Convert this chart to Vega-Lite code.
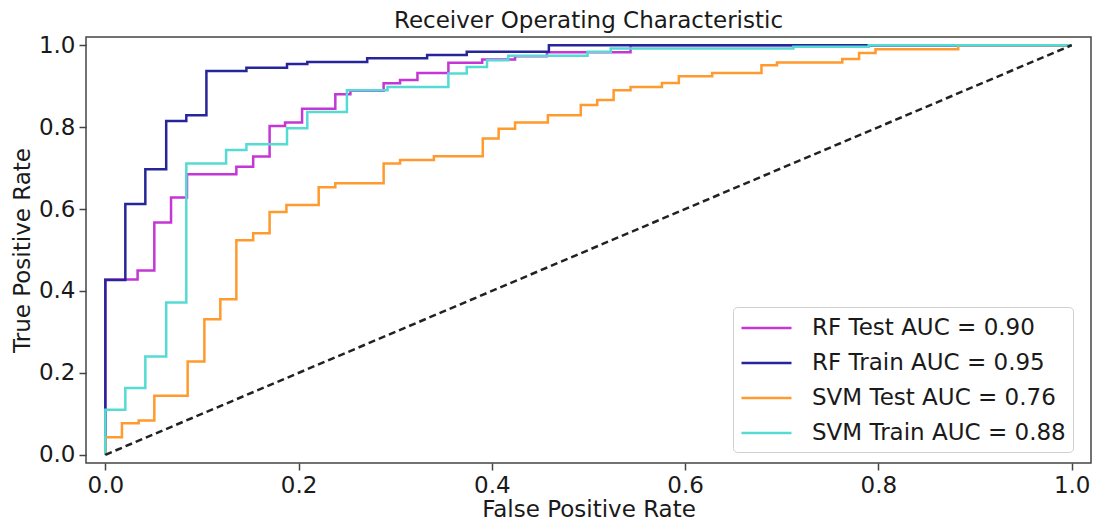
{
  "$schema": "https://vega.github.io/schema/vega-lite/v6.json",
  "width": 1005,
  "height": 426,
  "autosize": {"type": "none"},
  "padding": {"left": 86, "top": 37, "right": 4, "bottom": 58},
  "background": "white",
  "title": {"text": "Receiver Operating Characteristic", "fontSize": 23, "font": "DejaVu Sans", "fontWeight": "normal", "color": "#1a1a1a", "anchor": "middle", "offset": 1},
  "config": {
    "view": {"stroke": "#444444", "strokeWidth": 1.5},
    "axis": {"grid": false, "domain": false, "labelFont": "DejaVu Sans", "titleFont": "DejaVu Sans", "labelFontSize": 23, "titleFontSize": 23, "titleFontWeight": "normal", "labelColor": "#1a1a1a", "titleColor": "#1a1a1a", "tickColor": "#444444", "tickWidth": 1.5, "tickSize": 7, "labelPadding": 4}
  },
  "datasets": {
    "roc": [
      {"model": "RF Test AUC = 0.90", "i": 0, "fpr": 0, "tpr": 0},
      {"model": "RF Test AUC = 0.90", "i": 1, "fpr": 0, "tpr": 0.428},
      {"model": "RF Test AUC = 0.90", "i": 2, "fpr": 0.0334, "tpr": 0.45},
      {"model": "RF Test AUC = 0.90", "i": 3, "fpr": 0.0507, "tpr": 0.567},
      {"model": "RF Test AUC = 0.90", "i": 4, "fpr": 0.068, "tpr": 0.628},
      {"model": "RF Test AUC = 0.90", "i": 5, "fpr": 0.0845, "tpr": 0.685},
      {"model": "RF Test AUC = 0.90", "i": 6, "fpr": 0.1356, "tpr": 0.703},
      {"model": "RF Test AUC = 0.90", "i": 7, "fpr": 0.153, "tpr": 0.728},
      {"model": "RF Test AUC = 0.90", "i": 8, "fpr": 0.17, "tpr": 0.803},
      {"model": "RF Test AUC = 0.90", "i": 9, "fpr": 0.186, "tpr": 0.811},
      {"model": "RF Test AUC = 0.90", "i": 10, "fpr": 0.2036, "tpr": 0.845},
      {"model": "RF Test AUC = 0.90", "i": 11, "fpr": 0.238, "tpr": 0.88},
      {"model": "RF Test AUC = 0.90", "i": 12, "fpr": 0.2536, "tpr": 0.889},
      {"model": "RF Test AUC = 0.90", "i": 13, "fpr": 0.288, "tpr": 0.907},
      {"model": "RF Test AUC = 0.90", "i": 14, "fpr": 0.305, "tpr": 0.915},
      {"model": "RF Test AUC = 0.90", "i": 15, "fpr": 0.323, "tpr": 0.932},
      {"model": "RF Test AUC = 0.90", "i": 16, "fpr": 0.355, "tpr": 0.957},
      {"model": "RF Test AUC = 0.90", "i": 17, "fpr": 0.39, "tpr": 0.965},
      {"model": "RF Test AUC = 0.90", "i": 18, "fpr": 0.424, "tpr": 0.973},
      {"model": "RF Test AUC = 0.90", "i": 19, "fpr": 0.457, "tpr": 0.983},
      {"model": "RF Test AUC = 0.90", "i": 20, "fpr": 0.5435, "tpr": 1.0},
      {"model": "RF Test AUC = 0.90", "i": 21, "fpr": 1.0, "tpr": 1.0},

      {"model": "RF Train AUC = 0.95", "i": 0, "fpr": 0, "tpr": 0},
      {"model": "RF Train AUC = 0.95", "i": 1, "fpr": 0, "tpr": 0.427},
      {"model": "RF Train AUC = 0.95", "i": 2, "fpr": 0.0207, "tpr": 0.612},
      {"model": "RF Train AUC = 0.95", "i": 3, "fpr": 0.0414, "tpr": 0.697},
      {"model": "RF Train AUC = 0.95", "i": 4, "fpr": 0.063, "tpr": 0.815},
      {"model": "RF Train AUC = 0.95", "i": 5, "fpr": 0.0838, "tpr": 0.829},
      {"model": "RF Train AUC = 0.95", "i": 6, "fpr": 0.1046, "tpr": 0.937},
      {"model": "RF Train AUC = 0.95", "i": 7, "fpr": 0.146, "tpr": 0.945},
      {"model": "RF Train AUC = 0.95", "i": 8, "fpr": 0.188, "tpr": 0.954},
      {"model": "RF Train AUC = 0.95", "i": 9, "fpr": 0.209, "tpr": 0.959},
      {"model": "RF Train AUC = 0.95", "i": 10, "fpr": 0.271, "tpr": 0.968},
      {"model": "RF Train AUC = 0.95", "i": 11, "fpr": 0.333, "tpr": 0.976},
      {"model": "RF Train AUC = 0.95", "i": 12, "fpr": 0.374, "tpr": 0.984},
      {"model": "RF Train AUC = 0.95", "i": 13, "fpr": 0.459, "tpr": 1.0},
      {"model": "RF Train AUC = 0.95", "i": 14, "fpr": 1.0, "tpr": 1.0},

      {"model": "SVM Test AUC = 0.76", "i": 0, "fpr": 0, "tpr": 0},
      {"model": "SVM Test AUC = 0.76", "i": 1, "fpr": 0, "tpr": 0.043},
      {"model": "SVM Test AUC = 0.76", "i": 2, "fpr": 0.0172, "tpr": 0.077},
      {"model": "SVM Test AUC = 0.76", "i": 3, "fpr": 0.0345, "tpr": 0.084},
      {"model": "SVM Test AUC = 0.76", "i": 4, "fpr": 0.0507, "tpr": 0.144},
      {"model": "SVM Test AUC = 0.76", "i": 5, "fpr": 0.0852, "tpr": 0.228},
      {"model": "SVM Test AUC = 0.76", "i": 6, "fpr": 0.1025, "tpr": 0.331},
      {"model": "SVM Test AUC = 0.76", "i": 7, "fpr": 0.119, "tpr": 0.38},
      {"model": "SVM Test AUC = 0.76", "i": 8, "fpr": 0.1356, "tpr": 0.524},
      {"model": "SVM Test AUC = 0.76", "i": 9, "fpr": 0.153, "tpr": 0.541},
      {"model": "SVM Test AUC = 0.76", "i": 10, "fpr": 0.17, "tpr": 0.593},
      {"model": "SVM Test AUC = 0.76", "i": 11, "fpr": 0.1874, "tpr": 0.61},
      {"model": "SVM Test AUC = 0.76", "i": 12, "fpr": 0.2208, "tpr": 0.653},
      {"model": "SVM Test AUC = 0.76", "i": 13, "fpr": 0.238, "tpr": 0.663},
      {"model": "SVM Test AUC = 0.76", "i": 14, "fpr": 0.288, "tpr": 0.711},
      {"model": "SVM Test AUC = 0.76", "i": 15, "fpr": 0.305, "tpr": 0.72},
      {"model": "SVM Test AUC = 0.76", "i": 16, "fpr": 0.34, "tpr": 0.729},
      {"model": "SVM Test AUC = 0.76", "i": 17, "fpr": 0.3906, "tpr": 0.772},
      {"model": "SVM Test AUC = 0.76", "i": 18, "fpr": 0.407, "tpr": 0.796},
      {"model": "SVM Test AUC = 0.76", "i": 19, "fpr": 0.424, "tpr": 0.811},
      {"model": "SVM Test AUC = 0.76", "i": 20, "fpr": 0.458, "tpr": 0.829},
      {"model": "SVM Test AUC = 0.76", "i": 21, "fpr": 0.492, "tpr": 0.854},
      {"model": "SVM Test AUC = 0.76", "i": 22, "fpr": 0.509, "tpr": 0.866},
      {"model": "SVM Test AUC = 0.76", "i": 23, "fpr": 0.526, "tpr": 0.89},
      {"model": "SVM Test AUC = 0.76", "i": 24, "fpr": 0.5435, "tpr": 0.898},
      {"model": "SVM Test AUC = 0.76", "i": 25, "fpr": 0.576, "tpr": 0.908},
      {"model": "SVM Test AUC = 0.76", "i": 26, "fpr": 0.5935, "tpr": 0.924},
      {"model": "SVM Test AUC = 0.76", "i": 27, "fpr": 0.628, "tpr": 0.932},
      {"model": "SVM Test AUC = 0.76", "i": 28, "fpr": 0.679, "tpr": 0.951},
      {"model": "SVM Test AUC = 0.76", "i": 29, "fpr": 0.695, "tpr": 0.958},
      {"model": "SVM Test AUC = 0.76", "i": 30, "fpr": 0.7626, "tpr": 0.966},
      {"model": "SVM Test AUC = 0.76", "i": 31, "fpr": 0.78, "tpr": 0.981},
      {"model": "SVM Test AUC = 0.76", "i": 32, "fpr": 0.797, "tpr": 0.99},
      {"model": "SVM Test AUC = 0.76", "i": 33, "fpr": 0.8826, "tpr": 1.0},
      {"model": "SVM Test AUC = 0.76", "i": 34, "fpr": 1.0, "tpr": 1.0},

      {"model": "SVM Train AUC = 0.88", "i": 0, "fpr": 0, "tpr": 0},
      {"model": "SVM Train AUC = 0.88", "i": 1, "fpr": 0, "tpr": 0.11},
      {"model": "SVM Train AUC = 0.88", "i": 2, "fpr": 0.0207, "tpr": 0.163},
      {"model": "SVM Train AUC = 0.88", "i": 3, "fpr": 0.0414, "tpr": 0.24},
      {"model": "SVM Train AUC = 0.88", "i": 4, "fpr": 0.063, "tpr": 0.372},
      {"model": "SVM Train AUC = 0.88", "i": 5, "fpr": 0.0838, "tpr": 0.711},
      {"model": "SVM Train AUC = 0.88", "i": 6, "fpr": 0.125, "tpr": 0.744},
      {"model": "SVM Train AUC = 0.88", "i": 7, "fpr": 0.146, "tpr": 0.758},
      {"model": "SVM Train AUC = 0.88", "i": 8, "fpr": 0.188, "tpr": 0.797},
      {"model": "SVM Train AUC = 0.88", "i": 9, "fpr": 0.209, "tpr": 0.837},
      {"model": "SVM Train AUC = 0.88", "i": 10, "fpr": 0.25, "tpr": 0.89},
      {"model": "SVM Train AUC = 0.88", "i": 11, "fpr": 0.292, "tpr": 0.898},
      {"model": "SVM Train AUC = 0.88", "i": 12, "fpr": 0.355, "tpr": 0.931},
      {"model": "SVM Train AUC = 0.88", "i": 13, "fpr": 0.374, "tpr": 0.947},
      {"model": "SVM Train AUC = 0.88", "i": 14, "fpr": 0.395, "tpr": 0.963},
      {"model": "SVM Train AUC = 0.88", "i": 15, "fpr": 0.417, "tpr": 0.974},
      {"model": "SVM Train AUC = 0.88", "i": 16, "fpr": 0.499, "tpr": 0.984},
      {"model": "SVM Train AUC = 0.88", "i": 17, "fpr": 0.523, "tpr": 0.992},
      {"model": "SVM Train AUC = 0.88", "i": 18, "fpr": 0.712, "tpr": 0.996},
      {"model": "SVM Train AUC = 0.88", "i": 19, "fpr": 0.79, "tpr": 1.0},
      {"model": "SVM Train AUC = 0.88", "i": 20, "fpr": 1.0, "tpr": 1.0}
    ],
    "diag": [
      {"fpr": 0, "tpr": 0},
      {"fpr": 1, "tpr": 1}
    ]
  },
  "layer": [
    {
      "data": {"name": "roc"},
      "mark": {"type": "line", "interpolate": "step-after", "strokeWidth": 2.5, "clip": true},
      "encoding": {
        "x": {"field": "fpr", "type": "quantitative", "scale": {"domain": [-0.02, 1.02], "nice": false, "zero": false}, "axis": {"values": [0, 0.2, 0.4, 0.6, 0.8, 1.0], "format": ".1f", "title": "False Positive Rate", "titlePadding": 1}},
        "y": {"field": "tpr", "type": "quantitative", "scale": {"domain": [-0.02, 1.02], "nice": false, "zero": false}, "axis": {"values": [0, 0.2, 0.4, 0.6, 0.8, 1.0], "format": ".1f", "title": "True Positive Rate", "titlePadding": 4}},
        "color": {"field": "model", "type": "nominal", "sort": ["RF Test AUC = 0.90", "RF Train AUC = 0.95", "SVM Test AUC = 0.76", "SVM Train AUC = 0.88"],
          "scale": {"domain": ["RF Test AUC = 0.90", "RF Train AUC = 0.95", "SVM Test AUC = 0.76", "SVM Train AUC = 0.88"], "range": ["#c436d6", "#26269a", "#ff9a2e", "#55dbd3"]},
          "legend": {"title": null, "orient": "none", "legendX": 647, "legendY": 270, "symbolType": "M-1,0H3", "symbolSize": 625, "symbolStrokeWidth": 2.5, "labelFont": "DejaVu Sans", "labelFontSize": 23, "labelColor": "#1a1a1a", "labelLimit": 400, "labelOffset": 44, "rowPadding": 9, "padding": 7, "fillColor": "white", "strokeColor": "#d0d0d0", "cornerRadius": 4}},
        "order": {"field": "i", "type": "quantitative"}
      }
    },
    {
      "data": {"name": "diag"},
      "mark": {"type": "line", "color": "#222222", "strokeWidth": 2.5, "strokeDash": [7, 4]},
      "encoding": {
        "x": {"field": "fpr", "type": "quantitative"},
        "y": {"field": "tpr", "type": "quantitative"}
      }
    }
  ]
}
